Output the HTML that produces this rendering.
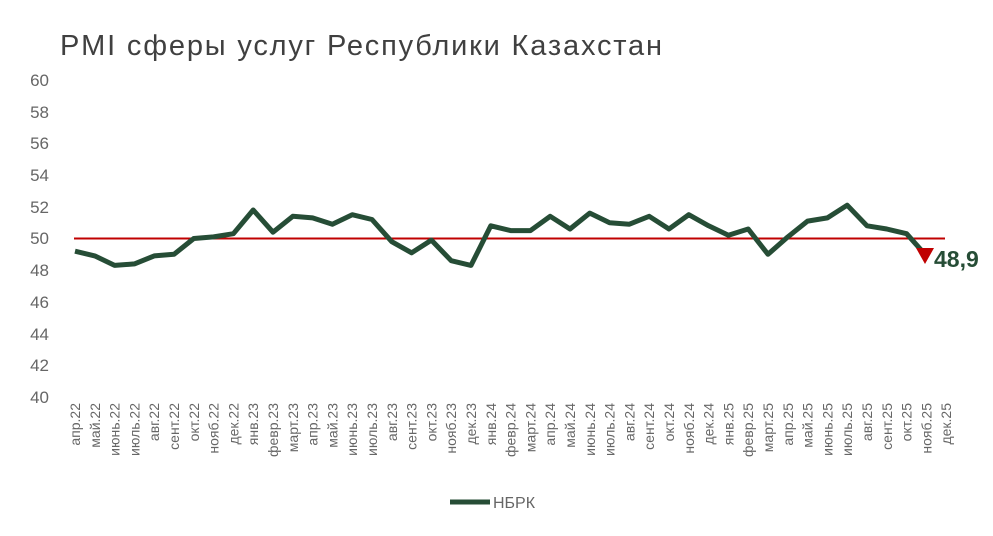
<!DOCTYPE html>
<html><head><meta charset="utf-8"><style>
body{margin:0;background:#fff;width:993px;height:531px;overflow:hidden;font-family:"Liberation Sans",sans-serif}
</style></head><body>
<svg width="993" height="531" xmlns="http://www.w3.org/2000/svg" font-family="Liberation Sans, sans-serif">
<text x="60" y="55" font-size="29" fill="#404040" textLength="602" lengthAdjust="spacing">PMI сферы услуг Республики Казахстан</text>
<g font-size="17" fill="#666" text-anchor="end">
<text x="49" y="86">60</text><text x="49" y="118">58</text><text x="49" y="149">56</text><text x="49" y="181">54</text><text x="49" y="213">52</text><text x="49" y="244">50</text><text x="49" y="276">48</text><text x="49" y="308">46</text><text x="49" y="340">44</text><text x="49" y="371">42</text><text x="49" y="403">40</text>
</g>
<g id="xl" font-size="14" fill="#666" text-anchor="end"></g>
<line x1="74" y1="238.5" x2="945" y2="238.5" stroke="#c00000" stroke-width="2"/>
<polyline id="ln" fill="none" stroke="#264d36" stroke-width="5" stroke-linejoin="round"/>
<polygon points="916,248 934,248 925,264" fill="#c00000"/>
<text x="934" y="267" font-size="23" font-weight="bold" fill="#264d36">48,9</text>
<line x1="450" y1="502" x2="490" y2="502" stroke="#264d36" stroke-width="5"/>
<text x="493" y="508" font-size="16" fill="#666">НБРК</text>
</svg>
<script>
var v=[49.2,48.9,48.3,48.4,48.9,49.0,50.0,50.1,50.3,51.8,50.4,51.4,51.3,50.9,51.5,51.2,49.8,49.1,49.9,48.6,48.3,50.8,50.5,50.5,51.4,50.6,51.6,51.0,50.9,51.4,50.6,51.5,50.8,50.2,50.6,49.0,50.1,51.1,51.3,52.1,50.8,50.6,50.3,48.9];
var lab=["апр.22","май.22","июнь.22","июль.22","авг.22","сент.22","окт.22","нояб.22","дек.22","янв.23","февр.23","март.23","апр.23","май.23","июнь.23","июль.23","авг.23","сент.23","окт.23","нояб.23","дек.23","янв.24","февр.24","март.24","апр.24","май.24","июнь.24","июль.24","авг.24","сент.24","окт.24","нояб.24","дек.24","янв.25","февр.25","март.25","апр.25","май.25","июнь.25","июль.25","авг.25","сент.25","окт.25","нояб.25","дек.25"];
var s=19.8,x0=75,p=[];
v.forEach(function(d,i){p.push((x0+i*s).toFixed(1)+","+(397-(d-40)*15.85).toFixed(1))});
document.getElementById("ln").setAttribute("points",p.join(" "));
var g=document.getElementById("xl"),h="";
lab.forEach(function(t,i){var x=x0+i*s+5;h+='<text transform="translate('+x+',403) rotate(-90)">'+t+'</text>'});
g.innerHTML=h;
</script>
</body></html>
